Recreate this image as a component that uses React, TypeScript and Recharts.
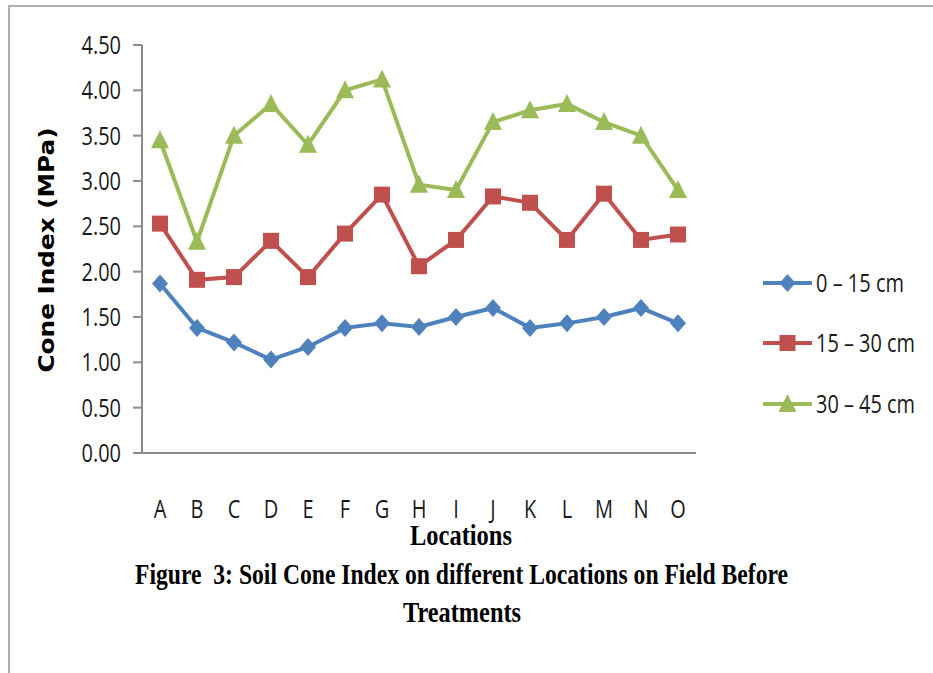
import { CartesianGrid, Line, LineChart, XAxis, YAxis } from "recharts";

const locations = ["A", "B", "C", "D", "E", "F", "G", "H", "I", "J", "K", "L", "M", "N", "O"];
const depth0to15 = [1.87, 1.38, 1.22, 1.03, 1.17, 1.38, 1.43, 1.39, 1.5, 1.6, 1.38, 1.43, 1.5, 1.6, 1.43];
const depth15to30 = [2.53, 1.91, 1.94, 2.34, 1.94, 2.42, 2.85, 2.06, 2.35, 2.83, 2.76, 2.35, 2.86, 2.35, 2.41];
const depth30to45 = [3.45, 2.33, 3.5, 3.85, 3.4, 4.0, 4.12, 2.96, 2.9, 3.65, 3.78, 3.85, 3.65, 3.5, 2.9];
const yTicks = [0, 0.5, 1, 1.5, 2, 2.5, 3, 3.5, 4, 4.5];
const seriesNames = ["0 \u2013 15 cm", "15 \u2013 30 cm", "30 \u2013 45 cm"];

const BLUE = "#4F81BD";
const RED = "#C0504D";
const GREEN = "#9BBB59";
const AXIS = "#8C8C8C";
const SANS = '"Open Sans", "DejaVu Sans", sans-serif';
const SERIF = '"Liberation Serif", "Times New Roman", serif';

const data = locations.map((loc, i) => ({
  loc,
  d1: depth0to15[i],
  d2: depth15to30[i],
  d3: depth30to45[i],
}));

type MarkerKind = "diamond" | "square" | "triangle";

function markerShape(kind: MarkerKind, cx: number, cy: number, color: string) {
  if (kind === "diamond") {
    return <path d={`M${cx},${cy - 9} L${cx + 8},${cy} L${cx},${cy + 9} L${cx - 8},${cy} Z`} fill={color} />;
  }
  if (kind === "square") {
    return <rect x={cx - 8} y={cy - 8} width={16} height={16} fill={color} />;
  }
  return <path d={`M${cx},${cy - 10} L${cx + 9},${cy + 8} L${cx - 9},${cy + 8} Z`} fill={color} />;
}

const makeDot = (kind: MarkerKind, color: string) => (props: any) => {
  const { cx, cy, index } = props;
  if (cx == null || cy == null) return <g key={index} />;
  return <g key={index}>{markerShape(kind, cx, cy, color)}</g>;
};

function XTick({ x, y, payload }: any) {
  return (
    <text
      transform={`translate(${x},${y + 57}) scale(0.8,1)`}
      textAnchor="middle"
      fontFamily={SANS}
      fontSize={25}
      fill="#1a1a1a"
    >
      {payload.value}
    </text>
  );
}

function YTick({ x, y, payload }: any) {
  return (
    <text
      transform={`translate(${x - 10},${y + 9}) scale(0.8,1)`}
      textAnchor="end"
      fontFamily={SANS}
      fontSize={25}
      fill="#1a1a1a"
    >
      {payload.value.toFixed(2)}
    </text>
  );
}

const legendRows: { name: string; color: string; kind: MarkerKind; y: number; w: number }[] = [
  { name: seriesNames[0], color: BLUE, kind: "diamond", y: 283, w: 88 },
  { name: seriesNames[1], color: RED, kind: "square", y: 343, w: 99 },
  { name: seriesNames[2], color: GREEN, kind: "triangle", y: 404, w: 99 },
];

export default function App() {
  return (
    <div style={{ position: "absolute", left: 0, top: 0, width: 933, height: 673, background: "#fff", overflow: "hidden" }}>
      <div
        style={{
          position: "absolute",
          left: 8,
          top: 5,
          width: 960,
          height: 700,
          borderLeft: "2px solid #ADADAD",
          borderTop: "2px solid #ADADAD",
        }}
      />
      <div style={{ position: "absolute", left: 0, top: 0 }}>
        <LineChart width={933} height={673} data={data} margin={{ top: 45, right: 237, bottom: 160, left: 82 }}>
          <CartesianGrid stroke="none" />
          <XAxis
            dataKey="loc"
            height={60}
            padding={{ left: 18, right: 18 }}
            axisLine={{ stroke: AXIS, strokeWidth: 2 }}
            tickLine={false}
            tick={<XTick />}
            interval={0}
          />
          <YAxis
            width={60}
            domain={[0, 4.5]}
            ticks={yTicks}
            axisLine={{ stroke: AXIS, strokeWidth: 2 }}
            tickLine={{ stroke: AXIS, strokeWidth: 2 }}
            tickSize={9}
            tick={<YTick />}
          />
          <Line
            dataKey="d1"
            name={seriesNames[0]}
            stroke={BLUE}
            strokeWidth={4}
            dot={makeDot("diamond", BLUE)}
            activeDot={false}
            isAnimationActive={false}
          />
          <Line
            dataKey="d2"
            name={seriesNames[1]}
            stroke={RED}
            strokeWidth={4}
            dot={makeDot("square", RED)}
            activeDot={false}
            isAnimationActive={false}
          />
          <Line
            dataKey="d3"
            name={seriesNames[2]}
            stroke={GREEN}
            strokeWidth={4}
            dot={makeDot("triangle", GREEN)}
            activeDot={false}
            isAnimationActive={false}
          />
        </LineChart>
      </div>
      <svg width={933} height={673} style={{ position: "absolute", left: 0, top: 0, pointerEvents: "none" }}>
        <text
          transform="translate(54,250) rotate(-90)"
          textAnchor="middle"
          textLength={245}
          lengthAdjust="spacingAndGlyphs"
          fontFamily='"DejaVu Sans", Verdana, sans-serif'
          fontWeight={700}
          fontSize={22}
          fill="#000"
        >
          Cone Index (MPa)
        </text>
        {legendRows.map((r) => (
          <g key={r.name}>
            <line x1={763} x2={812} y1={r.y} y2={r.y} stroke={r.color} strokeWidth={4} />
            {markerShape(r.kind, 787.5, r.y, r.color)}
            <text
              x={816}
              y={r.y + 9}
              textLength={r.w}
              lengthAdjust="spacingAndGlyphs"
              fontFamily={SANS}
              fontSize={25}
              fill="#1a1a1a"
            >
              {r.name}
            </text>
          </g>
        ))}
        <text x={410} y={545} textLength={102} lengthAdjust="spacingAndGlyphs" fontFamily={SERIF} fontWeight={700} fontSize={30} fill="#000">
          Locations
        </text>
        <text x={135} y={584} textLength={653} lengthAdjust="spacingAndGlyphs" fontFamily={SERIF} fontWeight={700} fontSize={30} fill="#000">
          {"Figure\u00a0 3: Soil Cone Index on different Locations on Field Before"}
        </text>
        <text x={403} y={622} textLength={118} lengthAdjust="spacingAndGlyphs" fontFamily={SERIF} fontWeight={700} fontSize={30} fill="#000">
          Treatments
        </text>
      </svg>
    </div>
  );
}
